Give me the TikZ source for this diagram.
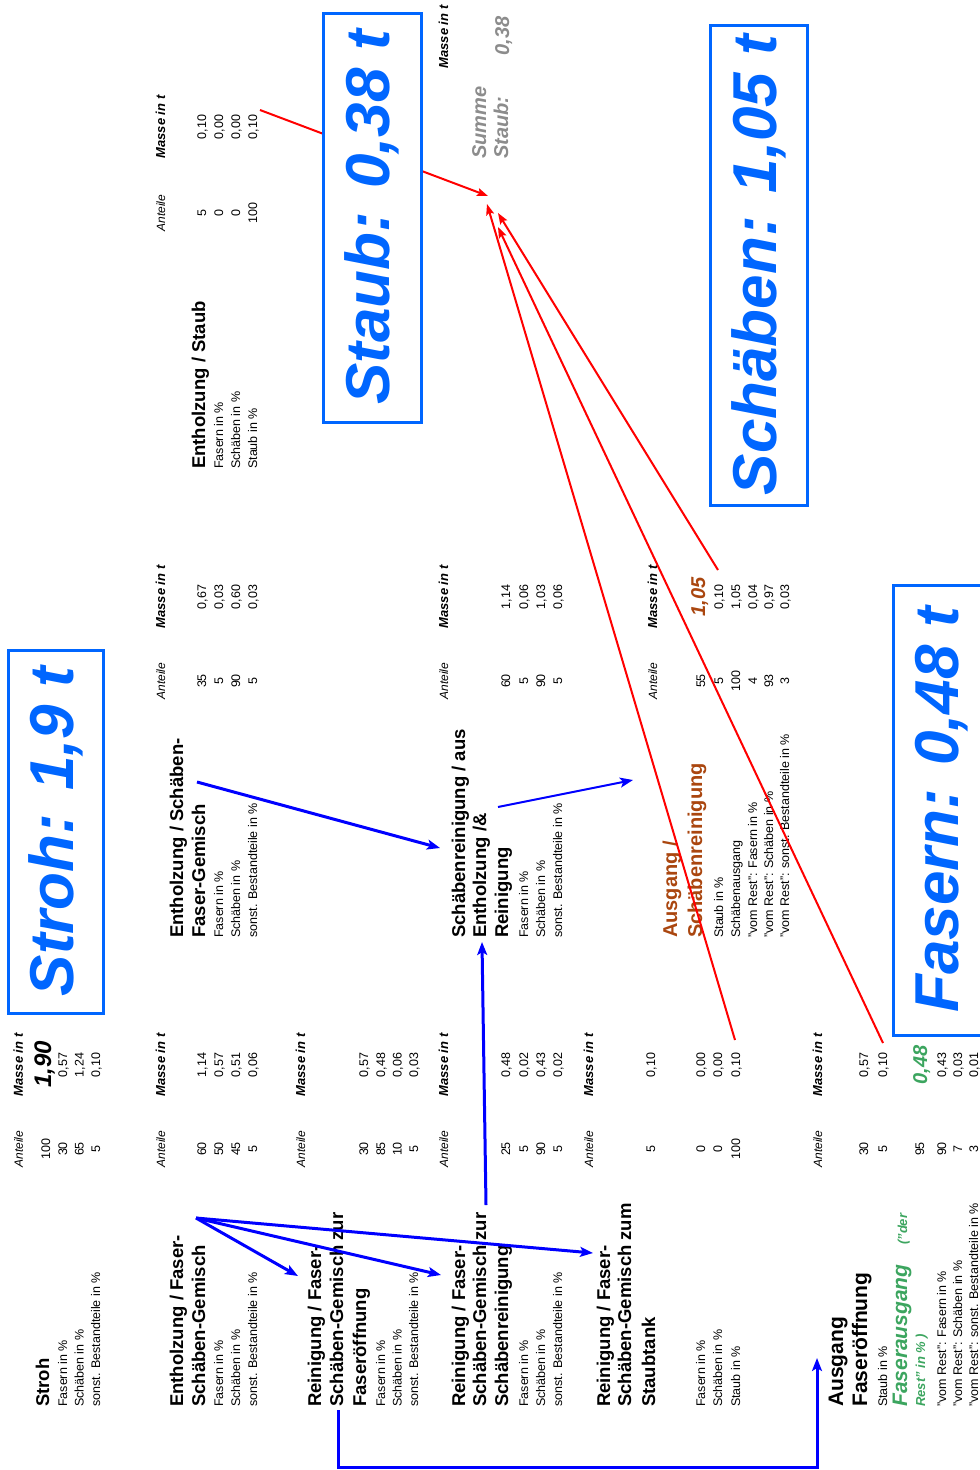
\documentclass[tikz,border=0pt]{standalone}
\usepackage{fontspec}
\setmainfont{Liberation Sans}
\usetikzlibrary{arrows.meta}
\definecolor{boxblue}{RGB}{0,102,255}
\definecolor{arrblue}{RGB}{0,0,255}
\definecolor{outorange}{RGB}{170,70,15}
\definecolor{outgreen}{RGB}{60,165,95}
\definecolor{sumgray}{RGB}{140,140,140}

\tikzset{
  txt/.style={rotate=90, inner sep=0pt, anchor=base west},
  lbl/.style={txt, font=\fontsize{12.5}{15}\selectfont},
  ttl/.style={txt, font=\bfseries\fontsize{18.5}{22}\selectfont},
  num/.style={rotate=90, inner sep=0pt, anchor=base, font=\fontsize{12.5}{15}\selectfont},
  hdA/.style={num, font=\itshape\fontsize{12}{14}\selectfont},
  hdM/.style={num, font=\bfseries\itshape\fontsize{13}{15}\selectfont},
  bignum/.style={num, font=\bfseries\itshape\fontsize{20}{22}\selectfont},
  bigbox/.style={rotate=90, draw=boxblue, line width=3pt, fill=white, text=boxblue,
    font=\bfseries\itshape\fontsize{62}{70}\selectfont, inner sep=0pt},
  flow/.style={arrblue, line width=3pt, -{Stealth[length=13pt,width=10pt,inset=3pt]}},
  dust/.style={red, line width=2pt, -{Stealth[length=11pt,width=8pt,inset=2pt]}},
}

% header pair: name, baseline, Anteile centre, Masse centre
\newcommand{\heads}[4]{%
  \node[hdA] (#1-ha) at (#2,#3) {Anteile};
  \node[hdM] (#1-hm) at (#2,#4) {Masse in t};}
% rows: name, label start, Anteile centre, Masse centre, list
\newcommand{\blockrows}[5]{%
  \foreach \bx/\lab/\va/\vm [count=\i] in {#5} {
    \node[lbl] (#1-l\i) at (\bx,#2) {\lab};
    \node[num] (#1-a\i) at (\bx,#3) {\va};
    \node[num] (#1-m\i) at (\bx,#4) {\vm};
  }}

\begin{document}
\begin{tikzpicture}[x=1pt,y=-1pt]
\useasboundingbox (0,0) rectangle (980,1470);

% ---- left column: Stroh and cleaning
\heads{stroh}{23}{1149}{1065}
\node[ttl] (stroh) at (49,1407) {Stroh};
\node[num] (stroh-a0) at (50,1149) {100};
\node[num, font=\bfseries\itshape\fontsize{24}{26}\selectfont] (stroh-m0) at (51,1064) {1,90};
\blockrows{stroh}{1407}{1149}{1065}{67/{Fasern in \%}/30/{0,57}, 83.5/{Schäben in \%}/65/{1,24}, 100/{sonst. Bestandteile in \%}/5/{0,10}}

\heads{ef}{165}{1149}{1065}
\node[ttl] (ef-t1) at (183,1407) {Entholzung / Faser-};
\node[ttl] (ef-t2) at (205,1407) {Schäben-Gemisch};
\node[num] (ef-a0) at (206,1149) {60};
\node[num] (ef-m0) at (206,1065) {1,14};
\blockrows{ef}{1407}{1149}{1065}{223/{Fasern in \%}/50/{0,57}, 240/{Schäben in \%}/45/{0,51}, 257/{sonst. Bestandteile in \%}/5/{0,06}}

\heads{fo}{305}{1149}{1065}
\node[ttl] (fo-t1) at (321,1407) {Reinigung / Faser-};
\node[ttl] (fo-t2) at (343,1407) {Schäben-Gemisch zur};
\node[ttl] (fo-t3) at (366,1407) {Faseröffnung};
\node[num] (fo-a0) at (368,1149) {30};
\node[num] (fo-m0) at (368,1065) {0,57};
\blockrows{fo}{1407}{1149}{1065}{385/{Fasern in \%}/85/{0,48}, 401.5/{Schäben in \%}/10/{0,06}, 418/{sonst. Bestandteile in \%}/5/{0,03}}

\heads{sr}{448}{1149}{1065}
\node[ttl] (sr-t1) at (465,1407) {Reinigung / Faser-};
\node[ttl] (sr-t2) at (486,1407) {Schäben-Gemisch zur};
\node[ttl] (sr-t3) at (508,1407) {Schäbenreinigung};
\node[num] (sr-a0) at (510,1149) {25};
\node[num] (sr-m0) at (510,1065) {0,48};
\blockrows{sr}{1407}{1149}{1065}{528/{Fasern in \%}/5/{0,02}, 545/{Schäben in \%}/90/{0,43}, 562/{sonst. Bestandteile in \%}/5/{0,02}}

\heads{st}{593}{1149}{1065}
\node[ttl] (st-t1) at (610,1407) {Reinigung / Faser-};
\node[ttl] (st-t2) at (631,1407) {Schäben-Gemisch zum};
\node[ttl] (st-t3) at (655,1407) {Staubtank};
\node[num] (st-a0) at (655,1149) {5};
\node[num] (st-m0) at (655,1065) {0,10};
\blockrows{st}{1407}{1149}{1065}{705/{Fasern in \%}/0/{0,00}, 722/{Schäben in \%}/0/{0,00}, 740/{Staub in \%}/100/{0,10}}

\heads{af}{822}{1149}{1065}
\node[ttl, font=\bfseries\fontsize{21}{24}\selectfont] (af-t1) at (843,1407) {Ausgang};
\node[ttl, font=\bfseries\fontsize{21}{24}\selectfont] (af-t2) at (867,1407) {Faseröffnung};
\node[num] (af-a0) at (868,1149) {30};
\node[num] (af-m0) at (868,1065) {0,57};
\node[lbl] (af-l1) at (887,1407) {Staub in \%};
\node[num] (af-a1) at (887,1149) {5};
\node[num] (af-m1) at (887,1065) {0,10};
\node[txt, outgreen, font=\bfseries\itshape\fontsize{21}{24}\selectfont] (af-fa) at (907,1407) {Faserausgang};
\node[txt, outgreen, font=\bfseries\itshape\fontsize{13}{15}\selectfont] (af-der) at (907,1245) {("der};
\node[txt, outgreen, font=\bfseries\itshape\fontsize{13}{15}\selectfont] (af-rest) at (925,1407) {Rest" in \% )};
\node[num] (af-a2) at (924,1149) {95};
\node[bignum, outgreen] (af-m2) at (927,1065) {0,48};
\blockrows{afr}{1407}{1149}{1065}{946/{"vom Rest": Fasern in \%}/90/{0,43}, 962/{"vom Rest": Schäben in \%}/7/{0,03}, 978/{"vom Rest": sonst. Bestandteile in \%}/3/{0,01}}

% ---- middle column: Schäben
\heads{es}{165}{681}{597}
\node[ttl] (es-t1) at (183,938) {Entholzung / Schäben-};
\node[ttl] (es-t2) at (205,938) {Faser-Gemisch};
\node[num] (es-a0) at (206,681) {35};
\node[num] (es-m0) at (206,597) {0,67};
\blockrows{es}{938}{681}{597}{223/{Fasern in \%}/5/{0,03}, 240/{Schäben in \%}/90/{0,60}, 257/{sonst. Bestandteile in \%}/5/{0,03}}

\heads{sa}{448}{681}{597}
\node[ttl] (sa-t1) at (465,938) {Schäbenreinigung / aus};
\node[ttl] (sa-t2) at (486,938) {Entholzung /\&};
\node[ttl] (sa-t3) at (508,938) {Reinigung};
\node[num] (sa-a0) at (510,681) {60};
\node[num] (sa-m0) at (510,597) {1,14};
\blockrows{sa}{938}{681}{597}{528/{Fasern in \%}/5/{0,06}, 545/{Schäben in \%}/90/{1,03}, 562/{sonst. Bestandteile in \%}/5/{0,06}}

\heads{as}{657}{681}{597}
\node[txt, outorange, font=\bfseries\fontsize{20}{24}\selectfont] (as-t1) at (677,938) {Ausgang /};
\node[txt, outorange, font=\bfseries\fontsize{20}{24}\selectfont] (as-t2) at (702,938) {Schäbenreinigung};
\node[num] (as-a0) at (705,681) {55};
\node[bignum, outorange] (as-m0) at (705,597) {1,05};
\blockrows{as}{938}{681}{597}{723/{Staub in \%}/5/{0,10}, 740/{Schäbenausgang}/100/{1,05}, 757/{"vom Rest": Fasern in \%}/4/{0,04}, 773/{"vom Rest": Schäben in \%}/93/{0,97}, 789/{"vom Rest": sonst. Bestandteile in \%}/3/{0,03}}

% ---- right column: Staub
\heads{ds}{165}{213}{127}
\node[ttl] (ds-t1) at (205,469) {Entholzung / Staub};
\node[num] (ds-a0) at (206,213) {5};
\node[num] (ds-m0) at (206,127) {0,10};
\blockrows{ds}{469}{213}{127}{223/{Fasern in \%}/0/{0,00}, 240/{Schäben in \%}/0/{0,00}, 257/{Staub in \%}/100/{0,10}}

\node[hdM] (sum-hm) at (448,37) {Masse in t};
\node[txt, sumgray, font=\bfseries\itshape\fontsize{20}{24}\selectfont] (sum-t1) at (486,159) {Summe};
\node[txt, sumgray, font=\bfseries\itshape\fontsize{20}{24}\selectfont] (sum-t2) at (508,159) {Staub:};
\node[bignum, sumgray] (sum-m) at (509,36) {0,38};

% ---- dust lines to the sum
\coordinate (d1s) at (260,110);  \coordinate (d1e) at (488,196);
\coordinate (d2s) at (735,1040); \coordinate (d2e) at (487,204);
\coordinate (d3s) at (718,570);  \coordinate (d3e) at (498,213);
\coordinate (d4s) at (883,1043); \coordinate (d4e) at (498,227);
\foreach \k in {1,...,4} \draw[dust] (d\k s) -- (d\k e);

% ---- totals
\node[bigbox, minimum width=363pt, minimum height=95pt] (strohbox) at (55.5,831.5) {Stroh: 1,9 t};
\node[bigbox, minimum width=409pt, minimum height=98pt] (staubbox) at (372,217.5) {Staub: 0,38 t};
\node[bigbox, minimum width=480pt, minimum height=97pt] (schaebbox) at (758.5,265) {Schäben: 1,05 t};
\node[bigbox, minimum width=450pt, minimum height=97pt] (faserbox) at (941.5,810) {Fasern: 0,48 t};

% ---- material flow
\coordinate (ef-out) at (196,1218);
\coordinate (fo-in) at (298,1276);
\coordinate (sr-in) at (441,1275);
\coordinate (st-in) at (593,1253);
\coordinate (es-out) at (197,782);
\coordinate (sa-in) at (440,848);
\coordinate (sa-out) at (498,807);
\coordinate (as-in) at (633,780);
\coordinate (sr-out) at (486,1205);
\coordinate (sa-up) at (482,942);
\coordinate (fo-out) at (338,1410);
\coordinate (af-in) at (817,1358);
\draw[flow] (ef-out) -- (fo-in);
\draw[flow] (ef-out) -- (sr-in);
\draw[flow] (ef-out) -- (st-in);
\draw[flow] (es-out) -- (sa-in);
\draw[flow, line width=2pt] (sa-out) -- (as-in);
\draw[flow] (sr-out) -- (sa-up);
\draw[flow] (fo-out) -- ++(0,57) -| (af-in);
\end{tikzpicture}
\end{document}
